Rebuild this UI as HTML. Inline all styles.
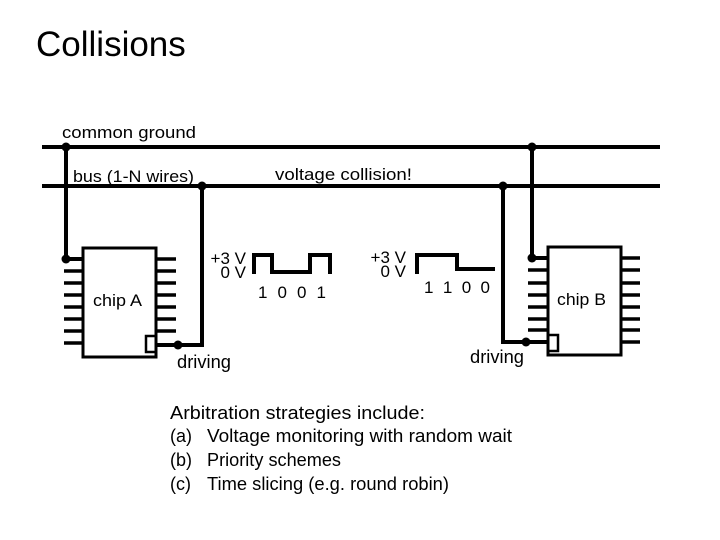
<!DOCTYPE html>
<html><head><style>
body{margin:0;background:#fff;}
svg{display:block;}
text{font-family:"Liberation Sans",sans-serif;fill:#000;}
</style></head><body>
<svg width="720" height="540" viewBox="0 0 720 540">
<text x="36" y="56" font-size="35">Collisions</text>
<text x="62" y="138" font-size="17" textLength="134" lengthAdjust="spacingAndGlyphs">common ground</text>
<text x="73" y="182" font-size="17" textLength="121" lengthAdjust="spacingAndGlyphs">bus (1-N wires)</text>
<text x="275" y="180" font-size="17" textLength="137" lengthAdjust="spacingAndGlyphs">voltage collision!</text>
<g stroke="#000" stroke-width="4" fill="none">
<line x1="42" y1="147" x2="660" y2="147"/>
<line x1="42" y1="186" x2="660" y2="186"/>
<polyline points="66,147 66,259 83,259"/>
<polyline points="156,345 202,345 202,186"/>
<polyline points="532,147 532,258 548,258"/>
<polyline points="503,186 503,342 548,342"/>
<rect x="83" y="248" width="73" height="109" stroke-width="3"/>
<rect x="548" y="247" width="73" height="108" stroke-width="3"/>
<rect x="146" y="336" width="10" height="16" stroke-width="2.5"/>
<rect x="548" y="335" width="10" height="16" stroke-width="2.5"/>
<polyline points="254,274 254,255 272,255 272,272 310,272 310,255 330,255 330,274"/>
<polyline points="417,274 417,255 457,255 457,269 495,269"/>
</g>
<g stroke="#000" stroke-width="3.5">
<path d="M64 271h19M64 283h19M64 295h19M64 307h19M64 319h19M64 331h19M64 343h19"/>
<path d="M156 259h20M156 271h20M156 283h20M156 295h20M156 307h20M156 319h20M156 331h20"/>
<path d="M528 270h20M528 283h20M528 295h20M528 307h20M528 319h20M528 330h20"/>
<path d="M621 258h19M621 270h19M621 283h19M621 295h19M621 307h19M621 319h19M621 330h19M621 342h19"/>
</g>
<g fill="#000">
<circle cx="66" cy="147" r="4.5"/><circle cx="66" cy="259" r="4.5"/>
<circle cx="202" cy="186" r="4.5"/><circle cx="178" cy="345" r="4.5"/>
<circle cx="532" cy="147" r="4.5"/><circle cx="532" cy="258" r="4.5"/>
<circle cx="503" cy="186" r="4.5"/><circle cx="526" cy="342" r="4.5"/>
</g>
<text x="93" y="306" font-size="17" textLength="49" lengthAdjust="spacingAndGlyphs">chip A</text>
<text x="557" y="305" font-size="17" textLength="49" lengthAdjust="spacingAndGlyphs">chip B</text>
<text x="246" y="264" font-size="17" text-anchor="end">+3 V</text>
<text x="246" y="278" font-size="17" text-anchor="end">0 V</text>
<text x="406" y="263" font-size="17" text-anchor="end">+3 V</text>
<text x="406" y="277" font-size="17" text-anchor="end">0 V</text>
<text x="258" y="298" font-size="17" textLength="68" lengthAdjust="spacing">1 0 0 1</text>
<text x="424" y="293" font-size="17" textLength="66" lengthAdjust="spacing">1 1 0 0</text>
<text x="177" y="368" font-size="18" textLength="54" lengthAdjust="spacingAndGlyphs">driving</text>
<text x="470" y="363" font-size="18" textLength="54" lengthAdjust="spacingAndGlyphs">driving</text>
<text x="170" y="419" font-size="18" textLength="255" lengthAdjust="spacingAndGlyphs">Arbitration strategies include:</text>
<text x="170" y="442" font-size="18">(a)</text><text x="207" y="442" font-size="18" textLength="305" lengthAdjust="spacingAndGlyphs">Voltage monitoring with random wait</text>
<text x="170" y="466" font-size="18">(b)</text><text x="207" y="466" font-size="18" textLength="134" lengthAdjust="spacingAndGlyphs">Priority schemes</text>
<text x="170" y="490" font-size="18">(c)</text><text x="207" y="490" font-size="18" textLength="242" lengthAdjust="spacingAndGlyphs">Time slicing (e.g. round robin)</text>
</svg>
</body></html>
